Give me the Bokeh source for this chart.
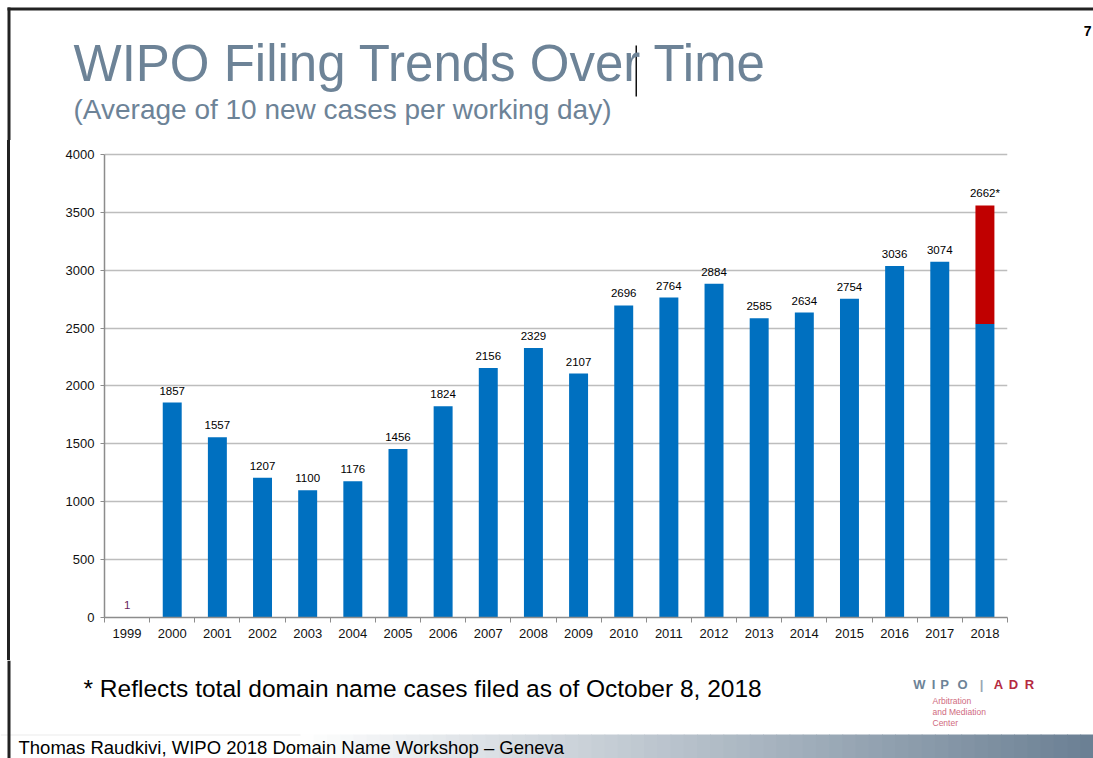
from bokeh.plotting import figure
from bokeh.layouts import column, row
from bokeh.models import (ColumnDataSource, Range1d, FixedTicker, LabelSet, BasicTickFormatter, Div)
from bokeh.core.properties import value
from bokeh.embed import file_html
from bokeh.resources import INLINE

# ---------------- data ----------------
years = list(range(1999, 2019))
cases = [1, 1857, 1557, 1207, 1100, 1176, 1456, 1824, 2156, 2329,
         2107, 2696, 2764, 2884, 2585, 2634, 2754, 3036, 3074, 2535]
projection_2018 = 3560
value_labels = ["1", "1857", "1557", "1207", "1100", "1176", "1456", "1824", "2156", "2329",
                "2107", "2696", "2764", "2884", "2585", "2634", "2754", "3036", "3074", "2662*"]
y_ticks = [0, 500, 1000, 1500, 2000, 2500, 3000, 3500, 4000]

title_text = "WIPO Filing Trends Over Time"
subtitle_text = "(Average of 10 new cases per working day)"
footnote_text = "* Reflects total domain name cases filed as of October 8, 2018"
footer_text = "Thomas Raudkivi, WIPO 2018 Domain Name Workshop \u2013 Geneva"
page_number = "7"
logo_letters = ["W", "I", "P", "O", "|", "A", "D", "R"]
logo_lines = ["Arbitration", "and Mediation", "Center"]

# ---------------- layout constants ----------------
W, H = 1093, 758
TOP_H = 140           # title band
MID_H = 520           # chart band
BOT_H = H - TOP_H - MID_H
STRIP_W = 12
FONT = "Liberation Sans"
BLUE = "#0070C0"
RED = "#C00000"
SLATE = "#6d8397"
DARK = "#222222"


def base(y, size):
    # baseline correction for the svg text placement
    return y - 0.35 * size


def blank(width, height, y0, y1):
    f = figure(width=width, height=height, x_range=Range1d(0, width),
               y_range=Range1d(y1, y0), output_backend="svg", toolbar_location=None,
               x_axis_location=None, y_axis_location=None,
               min_border_left=0, min_border_right=0, min_border_top=0, min_border_bottom=0)
    f.grid.visible = False
    f.outline_line_color = None
    f.background_fill_color = "white"
    f.border_fill_color = "white"
    return f


def put_text(f, x, y, text, size, color, align="left", style="normal"):
    f.text(x=x, y=[base(v, size) for v in y], text=text, text_font=value(FONT),
           text_font_size="%spx" % size, text_color=color, text_font_style=style,
           text_baseline="alphabetic", text_align=align)


# ---------------- top band: title ----------------
top = blank(W, TOP_H, 0, TOP_H)
top.quad(left=[7, 7, 635], right=[W, 10, 636.5], top=[7, 7, 45], bottom=[10, TOP_H, 96],
         fill_color=[DARK, DARK, "#111111"], line_color=None)
put_text(top, [73], [81], [title_text], 51, SLATE)
put_text(top, [73], [119], [subtitle_text], 28, SLATE)
put_text(top, [1091], [35], [page_number], 14, "#000000", align="right", style="bold")

# ---------------- middle band: chart ----------------
strip = Div(text="", width=STRIP_W, height=MID_H, margin=0,
            styles={"background": "linear-gradient(to right, #ffffff 7px, %s 7px, %s 10px, #ffffff 10px)"
                    % (DARK, DARK)})

FL = 104 - STRIP_W     # frame left inside the chart figure
FR = W - 1007          # right border
FB = 660 - 617         # bottom border
FT = 7                 # top border (frame top at 147)

p = figure(width=W - STRIP_W, height=MID_H, x_range=Range1d(1998.5, 2018.5),
           y_range=Range1d(0, 4060), output_backend="svg", toolbar_location=None,
           min_border_left=FL, min_border_right=FR, min_border_top=FT, min_border_bottom=FB)
p.background_fill_color = "white"
p.border_fill_color = "white"
p.outline_line_color = None

label_y = cases[:-1] + [projection_2018]
label_colors = ["#6a1f5c"] + ["#000000"] * (len(years) - 1)
src = ColumnDataSource(dict(x=years, top=cases, ly=label_y, lab=value_labels, col=label_colors))
p.vbar(x="x", top="top", bottom=0, width=0.42, source=src, fill_color=BLUE, line_color=None)
red_src = ColumnDataSource(dict(x=[years[-1]], bottom=[cases[-1]], top=[projection_2018]))
p.vbar(x="x", bottom="bottom", top="top", width=0.42, source=red_src, fill_color=RED, line_color=None)

p.add_layout(LabelSet(x="x", y="ly", text="lab", source=src, y_offset=8,
                      text_align="center", text_baseline="alphabetic",
                      text_font=value(FONT), text_font_size="11.5px", text_color="col"))

p.xgrid.visible = False
p.ygrid.ticker = FixedTicker(ticks=y_ticks)
p.ygrid.grid_line_color = "#bdbdbd"
p.ygrid.grid_line_width = 1.5

ya = p.yaxis[0]
ya.ticker = FixedTicker(ticks=y_ticks)
ya.bounds = (0, 4000)
ya.formatter = BasicTickFormatter(use_scientific=False)
ya.axis_line_color = "#8c8c8c"
ya.axis_line_width = 1.5
ya.major_tick_line_color = "#8c8c8c"
ya.major_tick_out = 4
ya.major_tick_in = 0
ya.minor_tick_line_color = None
ya.major_label_standoff = 6
ya.major_label_text_font = FONT
ya.major_label_text_font_size = "13px"
ya.major_label_text_color = "#111111"

xa = p.xaxis[0]
xa.ticker = FixedTicker(ticks=years, minor_ticks=[y - 0.5 for y in years] + [years[-1] + 0.5])
xa.formatter = BasicTickFormatter(use_scientific=False)
xa.axis_line_color = "#8c8c8c"
xa.axis_line_width = 1.5
xa.major_tick_out = 0
xa.major_tick_in = 0
xa.major_tick_line_color = None
xa.minor_tick_line_color = "#8c8c8c"
xa.minor_tick_out = 5
xa.minor_tick_in = 0
xa.major_label_standoff = 6
xa.major_label_text_font = FONT
xa.major_label_text_font_size = "13px"
xa.major_label_text_color = "#111111"

# ---------------- bottom band: footnote, logo, footer ----------------
Y0 = TOP_H + MID_H
bot = blank(W, BOT_H, Y0, H)

# footer gradient band (white -> slate)
g0, g1 = (255, 255, 255), (0x6a, 0x7f, 0x93)
gx0, gx1, n = 300, W, 60
lefts, rights, cols = [0], [gx0], ["#ffffff"]
for i in range(n):
    t = (i + 0.5) / n
    c = tuple(int(round(a + (b - a) * t)) for a, b in zip(g0, g1))
    lefts.append(gx0 + (gx1 - gx0) * i / n)
    rights.append(gx0 + (gx1 - gx0) * (i + 1) / n + 0.8)
    cols.append("#%02x%02x%02x" % c)
bot.quad(left=lefts, right=rights, top=[734] * len(lefts), bottom=[H] * len(lefts),
         fill_color=cols, line_color=None)
bot.quad(left=[0], right=[gx0], top=[734], bottom=[735], fill_color="#ececec", line_color=None)
bot.quad(left=[7], right=[10], top=[Y0], bottom=[H], fill_color=DARK, line_color=None)

put_text(bot, [83], [697], [footnote_text], 24.5, "#000000")
put_text(bot, [18], [753], [footer_text], 18.5, "#000000")

logo_x = [919, 933, 944, 962, 981, 998, 1013, 1029]
logo_cols = [SLATE] * 4 + ["#9aa7b4"] + ["#b52a3f"] * 3
put_text(bot, logo_x, [689] * len(logo_x), logo_letters, 13, logo_cols, align="center", style="bold")
put_text(bot, [932] * 3, [703, 714, 725], logo_lines, 8.5, "#cf6a80")

layout = column(top, row(strip, p, spacing=0), bot, spacing=0)
open("out.html", "w").write(file_html(layout, INLINE))
